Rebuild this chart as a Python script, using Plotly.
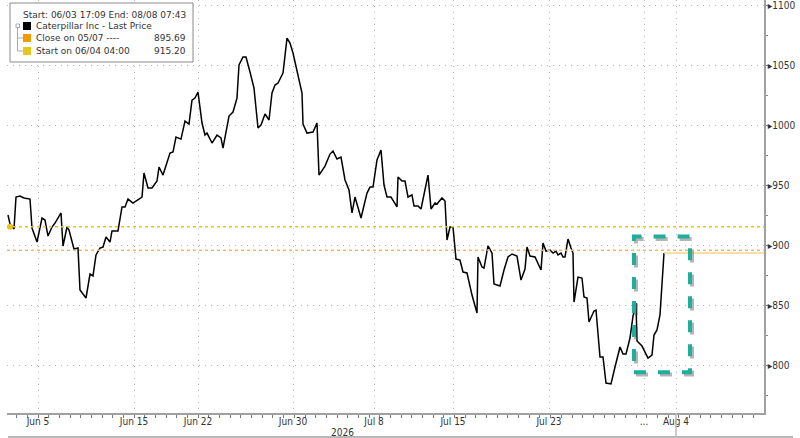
import plotly.graph_objects as go

# intraday trading-time index (left to right) and last price
t = [0, 0.5, 1.5, 2, 3, 4, 5.5, 6, 7.25, 8.5, 9.25, 10, 11, 11.75, 13.25, 13.75, 14.75, 15.25, 16.5, 17.5,
     18, 19.5, 20.5, 21.25, 22, 23, 23.75, 24.5, 25.5, 26, 27.5, 28.5, 29.25, 30, 31.25, 33.5, 34, 35, 36, 37.25,
     37.75, 38.75, 40.5, 41.25, 42, 43.25, 44.25, 45.25, 46, 46.75, 47.5, 48.5, 49.25, 49.75, 51, 52.25, 53.25, 53.75, 55.25, 56.25,
     57.25, 57.75, 58.75, 59.5, 60.5, 61.5, 62.5, 63.25, 64.25, 65.25, 66, 66.75, 67.5, 68.75, 69.75, 70.5, 71.25, 73.5, 73.75, 74.75,
     76.25, 77.25, 77.75, 79.25, 80.5, 81.25, 82.25, 83.25, 84.25, 85.25, 86, 86.75, 88.25, 89.75, 90.5, 91.25, 92.25, 93.25, 94, 94.75,
     95.75, 97.25, 97.5, 98.5, 99.25, 100, 101, 101.5, 102.5, 103.25, 105, 105.75, 106.75, 107.25, 108.5, 109.25, 109.75, 110.5, 111.25, 112,
     113, 113.75, 114.75, 116, 117.25, 117.5, 118.5, 119, 120, 121, 121.5, 123, 124, 125, 126, 127.25, 128.25, 129.25, 129.75, 130.5,
     131.75, 133.25, 133.75, 134.5, 135.5, 136.25, 137, 137.5, 138.25, 138.75, 139.25, 140, 140.75, 141.25, 141.5, 142.5, 143.5, 144, 144.75, 145.25,
     146.5, 147, 148, 148.75, 149.5, 150.75, 151.75, 153, 153.75, 154.5, 155.5, 156.25, 157, 157.25, 158.5, 160, 161, 161.5, 162.25, 163,
     164]
price = [925.0, 917.5, 913.3, 940.0, 940.8, 939.2, 938.3, 914.2, 902.5, 922.5, 920.8, 907.5, 915.0, 918.3, 926.7, 899.2, 915.0, 912.5, 896.7, 897.5,
         862.5, 855.8, 875.8, 874.2, 891.7, 897.5, 898.3, 906.7, 902.5, 911.7, 911.7, 931.7, 931.7, 938.3, 935.0, 940.0, 960.0, 947.5, 947.5, 953.3,
         965.0, 958.3, 976.7, 977.5, 990.0, 988.3, 1003.3, 1000.8, 1020.8, 1022.5, 1027.5, 1001.7, 991.7, 993.3, 985.0, 991.7, 989.2, 980.8, 1007.5, 1010.8,
         1022.5, 1050.0, 1056.7, 1056.7, 1044.2, 1030.8, 997.5, 1000.0, 1009.2, 1004.2, 1026.7, 1033.3, 1035.0, 1043.3, 1072.5, 1068.3, 1060.0, 1026.7, 1000.8, 993.3,
         994.2, 1001.7, 958.3, 965.8, 975.8, 978.3, 971.7, 973.3, 954.2, 945.8, 926.7, 940.0, 922.5, 943.3, 948.3, 948.3, 970.8, 979.2, 950.0, 940.0,
         940.0, 931.7, 956.7, 953.3, 953.3, 940.0, 941.7, 932.5, 932.5, 930.0, 958.3, 930.0, 935.0, 934.2, 939.2, 936.7, 904.2, 915.0, 915.0, 888.3,
         887.5, 877.5, 876.7, 858.3, 843.3, 890.0, 881.7, 880.8, 899.2, 893.3, 867.5, 865.8, 879.2, 890.0, 892.5, 890.8, 870.8, 880.0, 898.3, 890.8,
         890.0, 879.2, 901.7, 895.0, 895.8, 893.3, 895.0, 891.7, 893.3, 890.0, 890.0, 905.0, 897.5, 893.3, 852.5, 873.3, 872.5, 856.7, 855.8, 835.8,
         845.0, 845.8, 806.7, 806.7, 785.0, 784.2, 798.3, 815.0, 809.2, 809.2, 822.5, 840.8, 851.7, 820.0, 815.8, 805.8, 808.3, 825.0, 829.2, 841.7,
         893.3]

x_tick_pos = [7.5, 31.5, 47.5, 71.25, 91.5, 111.25, 135.25, 159, 167]
x_tick_text = ["Jun 5", "Jun 15", "Jun 22", "Jun 30", "Jul 8", "Jul 15", "Jul 23", "...", "Aug 4"]
y_ticks = [800, 850, 900, 950, 1000, 1050, 1100]

close_0507 = 895.69
start_0604 = 915.20
start_t = 0.5

# highlight box around the last days
box_t = [156.5, 170.5]
box_v = [794.0, 907.0]

x_range = [-0.25, 189]
y_range = [760, 1104.2]

W, H = 800, 438
ML, MR, MT, MB = 7, 36, 0, 25
PW, PH = W - ML - MR, H - MT - MB


def px(x):
    return (x - ML) / PW


def py(y):
    return (H - MB - y) / PH


GRID = "#b8b8b8"
AXIS = "#a0a0a0"
TXT = "#333333"
YEL = "#e9c31c"
ORG = "#f5a33a"

fig = go.Figure()

fig.add_trace(go.Scatter(x=t, y=price, mode="lines", line=dict(color="black", width=1.5),
                         hoverinfo="skip", showlegend=False))
fig.add_trace(go.Scatter(x=[start_t], y=[start_0604], mode="markers",
                         marker=dict(color=YEL, size=6), showlegend=False))

# reference lines
fig.add_shape(type="line", xref="paper", x0=0, x1=1, y0=start_0604, y1=start_0604,
              line=dict(color=YEL, width=1.5, dash="dot"))
fig.add_shape(type="line", xref="paper", x0=0, x1=1, y0=close_0507, y1=close_0507,
              line=dict(color="#f7b56a", width=1.5, dash="dot"))
fig.add_shape(type="line", x0=t[-1], x1=x_range[1], y0=price[-1], y1=price[-1],
              line=dict(color="#f3d58c", width=1.5))

# teal highlight box with a soft shadow
fig.add_shape(type="rect", x0=box_t[0] + 0.5, x1=box_t[1] + 0.5, y0=box_v[0] - 2, y1=box_v[1] - 2,
              line=dict(color="rgba(90,90,90,0.45)", width=4, dash="dash"))
fig.add_shape(type="rect", x0=box_t[0], x1=box_t[1], y0=box_v[0], y1=box_v[1],
              line=dict(color="#1fae9b", width=4, dash="dash"))

# bottom frame pieces
fig.add_shape(type="line", xref="paper", yref="paper", x0=px(8), x1=px(793), y0=py(437), y1=py(437),
              line=dict(color=AXIS, width=1.5))
fig.add_shape(type="line", xref="x", yref="paper", x0=x_tick_pos[-1], x1=x_tick_pos[-1], y0=0, y1=py(437),
              line=dict(color="#bbbbbb", width=1.5))

fig.add_annotation(text="2026", xref="paper", yref="paper", x=px(342), y=py(432), showarrow=False,
                   xanchor="center", yanchor="middle",
                   font=dict(family="DejaVu Sans Condensed", size=10, color=TXT))

# legend box
fig.add_shape(type="rect", xref="paper", yref="paper", x0=px(10), x1=px(193), y0=py(3), y1=py(62),
              line=dict(color="#8a8a8a", width=1), fillcolor="white", layer="above")
fig.add_annotation(text="Start: 06/03 17:09 End: 08/08 07:43", xref="paper", yref="paper",
                   x=px(21), y=py(15), xanchor="left", yanchor="middle", showarrow=False,
                   font=dict(family="DejaVu Sans", size=9, color=TXT))
rows = [("Caterpillar Inc - Last Price", "", "black", 26),
        ("Close on 05/07 ----", "895.69", "#f29a00", 38),
        ("Start on 06/04 04:00", "915.20", "#e6c619", 51)]
fig.add_shape(type="line", xref="paper", yref="paper", x0=px(17.5), x1=px(17.5), y0=py(26), y1=py(51),
              line=dict(color="#aaaaaa", width=1), layer="above")
fig.add_shape(type="rect", xref="paper", yref="paper", x0=px(16), x1=px(19.5), y0=py(24), y1=py(27.5),
              line=dict(color="#aaaaaa", width=1), fillcolor="white", layer="above")
for label, val, col, yy in rows:
    if yy > 30:
        fig.add_shape(type="line", xref="paper", yref="paper", x0=px(17.5), x1=px(23), y0=py(yy), y1=py(yy),
                      line=dict(color="#aaaaaa", width=1), layer="above")
    fig.add_shape(type="rect", xref="paper", yref="paper", x0=px(23), x1=px(31), y0=py(yy - 4), y1=py(yy + 4),
                  line=dict(width=0), fillcolor=col, layer="above")
    fig.add_annotation(text=label, xref="paper", yref="paper", x=px(34), y=py(yy), xanchor="left",
                       yanchor="middle", showarrow=False, font=dict(family="DejaVu Sans", size=9, color=TXT))
    if val:
        fig.add_annotation(text=val, xref="paper", yref="paper", x=px(188), y=py(yy), xanchor="right",
                           yanchor="middle", showarrow=False, font=dict(family="DejaVu Sans", size=9, color=TXT))

fig.update_layout(
    width=W, height=H,
    margin=dict(l=ML, r=MR, t=MT, b=MB),
    plot_bgcolor="white", paper_bgcolor="white",
    showlegend=False,
    xaxis=dict(range=x_range, tickmode="array", tickvals=x_tick_pos, ticktext=x_tick_text,
               showgrid=True, gridcolor=GRID, griddash="1px,5px", gridwidth=1,
               showline=True, linecolor=AXIS, linewidth=1.5, zeroline=False,
               ticks="", ticklabelstandoff=-2,
               minor=dict(tick0=7.5, dtick=2.67, ticks="outside", ticklen=3, tickcolor="#777777", showgrid=False),
               tickfont=dict(family="DejaVu Sans Condensed", size=10, color=TXT)),
    yaxis=dict(range=y_range, side="right", tickmode="array", tickvals=y_ticks,
               ticktext=["\u25B8" + str(v) for v in y_ticks], ticklabeloverflow="allow",
               showgrid=True, gridcolor=GRID, griddash="1px,5px", gridwidth=1,
               showline=True, linecolor=AXIS, linewidth=1.5, zeroline=False, ticks="",
               minor=dict(dtick=25, tick0=775, ticks="outside", ticklen=2, tickcolor="#888888", showgrid=False),
               tickfont=dict(family="DejaVu Sans Condensed", size=10, color=TXT)),
)

fig.write_html("out.html", config={"displayModeBar": False},
               post_script="document.body.style.margin='0px';")
